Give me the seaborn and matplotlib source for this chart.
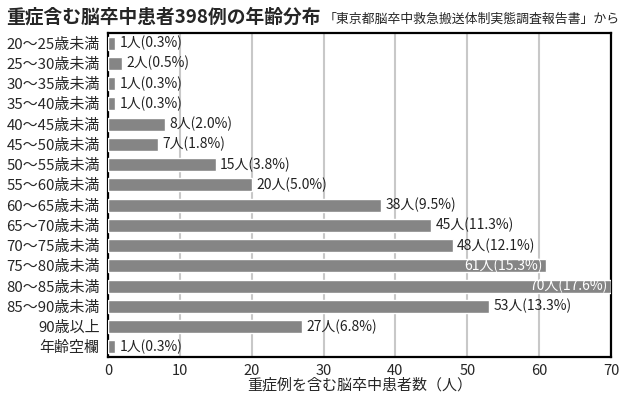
import seaborn as sns
import pandas as pd
import matplotlib.pyplot as plt

# data
ages = ['20～25歳未満', '25～30歳未満', '30～35歳未満', '35～40歳未満', '40～45歳未満',
        '45～50歳未満', '50～55歳未満', '55～60歳未満', '60～65歳未満', '65～70歳未満',
        '70～75歳未満', '75～80歳未満', '80～85歳未満', '85～90歳未満', '90歳以上', '年齢空欄']
counts = [1, 2, 1, 1, 8, 7, 15, 20, 38, 45, 48, 61, 70, 53, 27, 1]
pcts = ['0.3', '0.5', '0.3', '0.3', '2.0', '1.8', '3.8', '5.0', '9.5', '11.3',
        '12.1', '15.3', '17.6', '13.3', '6.8', '0.3']

df = pd.DataFrame({'age': ages, 'count': counts, 'pct': pcts})

sns.set_style('white')
plt.rcParams['font.family'] = ['Noto Sans CJK JP', 'DejaVu Sans']

fig = plt.figure(figsize=(6.2, 3.99), dpi=100)
ax = fig.add_axes([108 / 620, 1 - 357 / 399, 503 / 620, 324 / 399])

sns.barplot(data=df, y='age', x='count', color='#858585', saturation=1,
            width=0.65, ax=ax, zorder=3)

ax.set_xlim(0, 70)
ax.set_xticks(range(0, 71, 10))
ax.grid(axis='x', color='#c8c8c8', linewidth=1.5, zorder=0)
ax.set_axisbelow(True)
for s in ax.spines.values():
    s.set_color('black')
    s.set_linewidth(1.6)
ax.tick_params(axis='y', length=0, labelsize=10.8, pad=6)
ax.tick_params(axis='x', length=0, labelsize=10.5, pad=5)
ax.set_ylabel('')
ax.set_xlabel('重症例を含む脳卒中患者数（人）', fontsize=10.8, labelpad=0)

for i, (c, p) in enumerate(zip(counts, pcts)):
    txt = f'{c}人({p}%)'
    if c > 58:
        ax.text(c - 0.5, i, txt, ha='right', va='center', fontsize=10,
                color='white', zorder=4)
    else:
        ax.text(c + 0.6, i, txt, ha='left', va='center', fontsize=10,
                color='#222222', zorder=4)

fig.text(6 / 620, 1 - 17 / 399, '重症含む脳卒中患者398例の年齢分布', fontsize=13.5,
         fontweight='bold', va='center', ha='left')
fig.text(324 / 620, 1 - 19 / 399, '「東京都脳卒中救急搬送体制実態調査報告書」から',
         fontsize=9.3, va='center', ha='left')

fig.savefig('out.png', dpi=100)
